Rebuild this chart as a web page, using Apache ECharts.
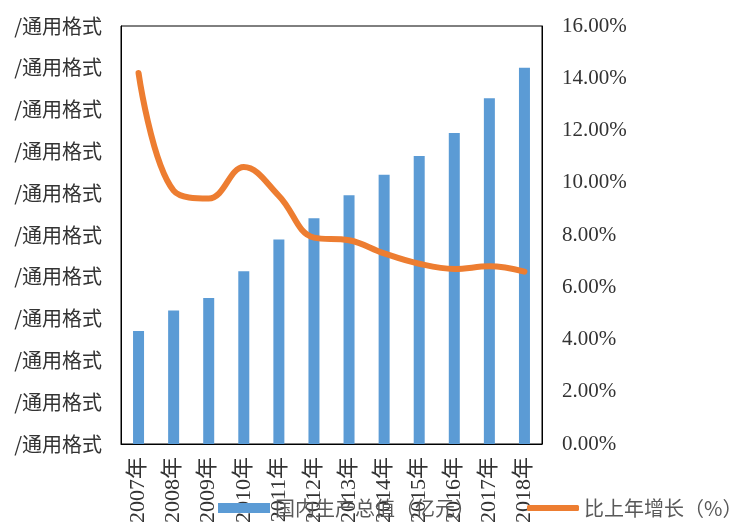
<!DOCTYPE html>
<html>
<head>
<meta charset="utf-8">
<script src="https://cdn.jsdelivr.net/npm/echarts@6/dist/echarts.min.js"></script>
<style>
  html, body { margin: 0; padding: 0; background: #fff; }
  #chart { width: 731px; height: 523px; }
</style>
</head>
<body>
<div id="chart"></div>
<script>
// 年份
const years = ['2007年', '2008年', '2009年', '2010年', '2011年', '2012年',
               '2013年', '2014年', '2015年', '2016年', '2017年', '2018年']
// 国内生产总值（亿元）
const gdp = [270232, 319516, 349081, 413030, 489301, 540367,
             595244, 643974, 689052, 744127, 827122, 900309]
// 比上年增长（%）
const growth = [14.2, 9.7, 9.4, 10.6, 9.5, 7.9, 7.8, 7.3, 6.9, 6.7, 6.8, 6.6]

const serif = 'Liberation Serif, Noto Sans CJK SC'
const cjk = 'Noto Sans CJK SC'

const legendText = { fontFamily: cjk, fontSize: 20, color: '#595959' }

const chart = echarts.init(document.getElementById('chart'))
chart.setOption({
  backgroundColor: '#fff',
  animation: false,
  grid: {
    left: 121, right: 189, top: 26, bottom: 79,
    outerBoundsMode: 'none',
    show: true, borderColor: '#000', borderWidth: 1
  },
  // 两个图例分开放，这样线条图例可以单独设置粗细
  legend: [
    {
      left: 213, top: 493,
      itemWidth: 52, itemHeight: 10,
      textStyle: legendText,
      data: [{ name: '国内生产总值（亿元）', icon: 'rect' }]
    },
    {
      left: 522, top: 493,
      itemWidth: 52, itemHeight: 6,
      textStyle: legendText,
      data: [{ name: '比上年增长（%）', icon: 'roundRect' }]
    }
  ],
  xAxis: {
    type: 'category',
    data: years,
    axisLine: { lineStyle: { color: '#000' } },
    axisTick: { show: false },
    axisLabel: {
      rotate: 90, interval: 0, margin: 13,
      fontFamily: serif, fontSize: 22, color: '#333'
    }
  },
  yAxis: [
    {
      type: 'value', min: 0, max: 1000000, interval: 100000,
      splitLine: { show: false },
      axisLine: { show: true, lineStyle: { color: '#000' } },
      axisTick: { show: false },
      axisLabel: {
        margin: 19, fontFamily: cjk, fontSize: 20, color: '#333',
        formatter: () => '/通用格式'
      }
    },
    {
      type: 'value', min: 0, max: 16, interval: 2,
      splitLine: { show: false },
      axisLine: { show: true, lineStyle: { color: '#000' } },
      axisTick: { show: false },
      axisLabel: {
        margin: 20, fontFamily: serif, fontSize: 21, color: '#333',
        formatter: v => v.toFixed(2) + '%'
      }
    }
  ],
  series: [
    {
      name: '国内生产总值（亿元）',
      type: 'bar',
      barWidth: 11,
      itemStyle: { color: '#5B9BD5' },
      data: gdp
    },
    {
      name: '比上年增长（%）',
      type: 'line',
      yAxisIndex: 1,
      smooth: 0.4,
      symbol: 'none',
      lineStyle: { color: '#ED7D31', width: 6, cap: 'round' },
      itemStyle: { color: '#ED7D31' },
      data: growth
    }
  ]
})
</script>
</body>
</html>
